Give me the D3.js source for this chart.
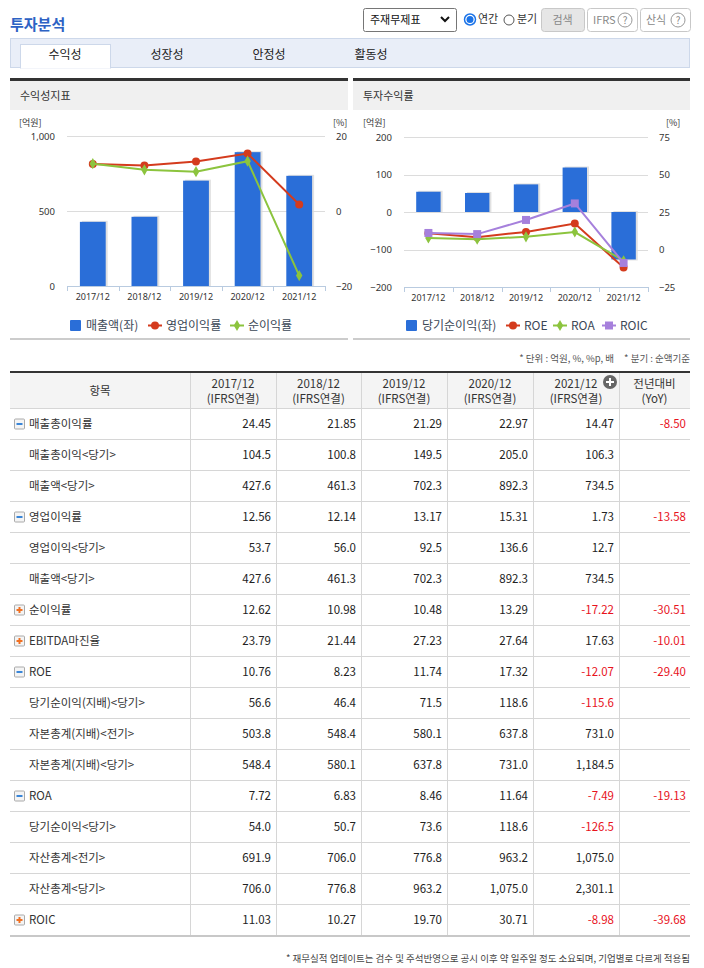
<!DOCTYPE html>
<html>
<head>
<meta charset="utf-8">
<script src="https://cdn.jsdelivr.net/npm/d3@7.9.0/dist/d3.min.js"></script>
<style>
  body { margin: 0; background: #fff; }
  svg { display: block; font-family: "Noto Sans CJK KR", "Noto Sans", sans-serif; }
</style>
</head>
<body>
<div id="page"></div>
<script>
// Chart data
const years = ['2017/12', '2018/12', '2019/12', '2020/12', '2021/12'];
const sales = [427.6, 461.3, 702.3, 892.3, 734.5];
const opMargin = [12.56, 12.14, 13.17, 15.31, 1.73];
const netMargin = [12.62, 10.98, 10.48, 13.29, -17.22];
const netIncome = [54.0, 50.7, 73.6, 118.6, -126.5];
const roe = [10.76, 8.23, 11.74, 17.32, -12.07];
const roa = [7.72, 6.83, 8.46, 11.64, -7.49];
const roic = [11.03, 10.27, 19.70, 30.71, -8.98];

const tabs = ['수익성', '성장성', '안정성', '활동성'];

// Table data
const rowLabels = ['매출총이익률', '매출총이익<당기>', '매출액<당기>', '영업이익률', '영업이익<당기>', '매출액<당기>',
  '순이익률', 'EBITDA마진율', 'ROE', '당기순이익(지배)<당기>', '자본총계(지배)<전기>', '자본총계(지배)<당기>',
  'ROA', '당기순이익<당기>', '자산총계<전기>', '자산총계<당기>', 'ROIC'];
const rowIcons = ['-', '', '', '-', '', '', '+', '+', '-', '', '', '', '-', '', '', '', '+'];
const rowValues = [
  ['24.45', '21.85', '21.29', '22.97', '14.47'],
  ['104.5', '100.8', '149.5', '205.0', '106.3'],
  ['427.6', '461.3', '702.3', '892.3', '734.5'],
  ['12.56', '12.14', '13.17', '15.31', '1.73'],
  ['53.7', '56.0', '92.5', '136.6', '12.7'],
  ['427.6', '461.3', '702.3', '892.3', '734.5'],
  ['12.62', '10.98', '10.48', '13.29', '-17.22'],
  ['23.79', '21.44', '27.23', '27.64', '17.63'],
  ['10.76', '8.23', '11.74', '17.32', '-12.07'],
  ['56.6', '46.4', '71.5', '118.6', '-115.6'],
  ['503.8', '548.4', '580.1', '637.8', '731.0'],
  ['548.4', '580.1', '637.8', '731.0', '1,184.5'],
  ['7.72', '6.83', '8.46', '11.64', '-7.49'],
  ['54.0', '50.7', '73.6', '118.6', '-126.5'],
  ['691.9', '706.0', '776.8', '963.2', '1,075.0'],
  ['706.0', '776.8', '963.2', '1,075.0', '2,301.1'],
  ['11.03', '10.27', '19.70', '30.71', '-8.98'],
];
const rowYoY = ['-8.50', '', '', '-13.58', '', '', '-30.51', '-10.01', '-29.40', '', '', '', '-19.13', '', '', '', '-39.68'];

const colors = { bar: '#2a6ed8', red: '#d43b1d', green: '#8cc43e', purple: '#a680dc' };

const W = 704, H = 968;
const svg = d3.select('#page').append('svg').attr('width', W).attr('height', H);

// ---------- Header ----------
svg.append('text').attr('x', 10).attr('y', 30)
  .attr('font-size', 15).attr('font-weight', 'bold').attr('fill', '#2d62c4').text('투자분석');

// select box
svg.append('rect').attr('x', 363.5).attr('y', 8.5).attr('width', 93).attr('height', 23).attr('rx', 2)
  .attr('fill', '#fff').attr('stroke', '#767676');
svg.append('text').attr('x', 370).attr('y', 24).attr('font-size', 11).attr('fill', '#111').text('주재무제표');
svg.append('path').attr('d', 'M441,17 l4,4 l4,-4').attr('fill', 'none').attr('stroke', '#111').attr('stroke-width', 2);

// radios
svg.append('circle').attr('cx', 470).attr('cy', 19.5).attr('r', 5.5).attr('fill', '#fff').attr('stroke', '#1a73e8').attr('stroke-width', 1.5);
svg.append('circle').attr('cx', 470).attr('cy', 19.5).attr('r', 3.5).attr('fill', '#1a73e8');
svg.append('text').attr('x', 478).attr('y', 23).attr('font-size', 11).attr('fill', '#333').text('연간');
svg.append('circle').attr('cx', 509).attr('cy', 20).attr('r', 5).attr('fill', '#fff').attr('stroke', '#555');
svg.append('text').attr('x', 517).attr('y', 23).attr('font-size', 11).attr('fill', '#333').text('분기');

// buttons
const buttons = [
  { x: 541, w: 43, label: '검색', bg: '#e6e6e6' },
  { x: 587, w: 50, label: 'IFRS', bg: '#fff', q: true },
  { x: 640, w: 50, label: '산식', bg: '#fff', q: true },
];
buttons.forEach(b => {
  svg.append('rect').attr('x', b.x + 0.5).attr('y', 8.5).attr('width', b.w).attr('height', 23).attr('rx', 3)
    .attr('fill', b.bg).attr('stroke', '#c8c8c8');
  svg.append('text').attr('x', b.q ? b.x + 6 : b.x + b.w / 2).attr('y', 24)
    .attr('text-anchor', b.q ? 'start' : 'middle').attr('font-size', 11).attr('fill', '#888').text(b.label);
  if (b.q) {
    svg.append('circle').attr('cx', b.x + b.w - 12).attr('cy', 20).attr('r', 7).attr('fill', 'none').attr('stroke', '#999');
    svg.append('text').attr('x', b.x + b.w - 12).attr('y', 24).attr('text-anchor', 'middle')
      .attr('font-size', 10).attr('fill', '#888').text('?');
  }
});

// tab bar
svg.append('rect').attr('x', 10.5).attr('y', 38.5).attr('width', 679).attr('height', 29)
  .attr('fill', '#e9eef8').attr('stroke', '#cdd8ea');
svg.append('rect').attr('x', 20.5).attr('y', 44.5).attr('width', 90).attr('height', 23.5)
  .attr('fill', '#fff').attr('stroke', '#cdd8ea');
svg.append('line').attr('x1', 21).attr('x2', 110).attr('y1', 67.5).attr('y2', 67.5).attr('stroke', '#fff').attr('stroke-width', 2);
svg.selectAll('.tab').data(tabs).join('text')
  .attr('x', (d, i) => 65 + i * 102).attr('y', 59).attr('text-anchor', 'middle')
  .attr('font-size', 12).attr('fill', '#222').text(d => d);

// ---------- Chart panels ----------
function panel(x, w, title) {
  svg.append('rect').attr('x', x).attr('y', 78).attr('width', w).attr('height', 3).attr('fill', '#333');
  svg.append('rect').attr('x', x).attr('y', 81).attr('width', w).attr('height', 29).attr('fill', '#f0f0f0');
  svg.append('text').attr('x', x + 10).attr('y', 100).attr('font-size', 11).attr('fill', '#333').text(title);
  svg.append('rect').attr('x', x).attr('y', 338).attr('width', w).attr('height', 2).attr('fill', '#cccccc');
}
panel(10, 338, '수익성지표');
panel(353, 337, '투자수익률');

function drawChart(cfg) {
  const g = svg.append('g');
  const x = d3.scaleBand().domain(years).range([cfg.x0, cfg.x1]).paddingInner(0.5).paddingOuter(0.25);
  const yL = d3.scaleLinear().domain(cfg.leftDomain).range([cfg.yBottom, cfg.yTop]);
  const yR = d3.scaleLinear().domain(cfg.rightDomain).range([cfg.yBottom, cfg.yTop]);

  // gridlines
  g.append('g').selectAll('line').data(cfg.leftTicks.slice(1)).join('line')
    .attr('x1', cfg.x0).attr('x2', cfg.x1)
    .attr('y1', d => Math.round(yL(d)) + 0.5).attr('y2', d => Math.round(yL(d)) + 0.5)
    .attr('stroke', '#dcdcdc');

  // left axis
  const la = g.append('g').attr('transform', `translate(${cfg.x0 - 9},0)`)
    .call(d3.axisLeft(yL).tickValues(cfg.leftTicks).tickSize(0).tickFormat(d3.format(',')));
  la.select('.domain').remove();
  la.selectAll('text').attr('font-size', 9.5).attr('fill', '#333').attr('font-family', '"Noto Sans", sans-serif');

  // right axis
  const ra = g.append('g').attr('transform', `translate(${cfg.x1 + 8},0)`)
    .call(d3.axisRight(yR).tickValues(cfg.rightTicks).tickSize(0));
  ra.select('.domain').remove();
  ra.selectAll('text').attr('font-size', 9.5).attr('fill', '#333').attr('font-family', '"Noto Sans", sans-serif');

  g.append('text').attr('x', cfg.unitLX).attr('y', 126).attr('font-size', 9).attr('fill', '#333').text('[억원]');
  g.append('text').attr('x', cfg.unitRX).attr('y', 126).attr('font-size', 9).attr('fill', '#333').text('[%]');

  // bars
  const base = yL(Math.max(cfg.leftDomain[0], 0));
  const bars = g.append('g');
  bars.selectAll('.shadow').data(cfg.bars).join('rect')
    .attr('x', (d, i) => x(years[i]) + 2)
    .attr('y', d => Math.min(yL(d), base) - 1)
    .attr('width', x.bandwidth())
    .attr('height', d => Math.abs(yL(d) - base) + 2)
    .attr('fill', '#d9d9d9').attr('opacity', 0.8);
  bars.selectAll('.bar').data(cfg.bars).join('rect')
    .attr('x', (d, i) => x(years[i]))
    .attr('y', d => Math.min(yL(d), base))
    .attr('width', x.bandwidth())
    .attr('height', d => Math.abs(yL(d) - base))
    .attr('fill', colors.bar);

  // x axis
  g.append('line').attr('x1', cfg.x0).attr('x2', cfg.x1).attr('y1', cfg.yBottom + 0.5).attr('y2', cfg.yBottom + 0.5)
    .attr('stroke', '#b9cbe0');
  g.append('g').selectAll('line').data(d3.range(6)).join('line')
    .attr('x1', i => Math.round(cfg.x0 + i * (cfg.x1 - cfg.x0) / 5) + 0.5)
    .attr('x2', i => Math.round(cfg.x0 + i * (cfg.x1 - cfg.x0) / 5) + 0.5)
    .attr('y1', cfg.yBottom).attr('y2', cfg.yBottom + 5).attr('stroke', '#b9cbe0');
  g.append('g').selectAll('text').data(years).join('text')
    .attr('x', d => x(d) + x.bandwidth() / 2).attr('y', cfg.yBottom + 14)
    .attr('text-anchor', 'middle').attr('font-size', 9).attr('fill', '#333')
    .attr('font-family', '"Noto Sans", sans-serif').text(d => d);

  // lines
  const cx = i => x(years[i]) + x.bandwidth() / 2;
  cfg.lines.forEach(s => {
    const line = d3.line().x((d, i) => cx(i)).y(d => yR(d));
    g.append('path').datum(s.values).attr('d', line).attr('fill', 'none')
      .attr('stroke', s.color).attr('stroke-width', 2);
    const sym = d3.symbol().type(s.symbol).size(s.size);
    g.append('g').selectAll('path').data(s.values).join('path')
      .attr('transform', (d, i) => `translate(${cx(i)},${yR(d)})`)
      .attr('d', sym).attr('fill', s.color);
  });

  // legend
  const lg = g.append('g');
  lg.append('rect').attr('x', cfg.legend[0]).attr('y', 320).attr('width', 11).attr('height', 11).attr('rx', 1).attr('fill', colors.bar);
  lg.append('text').attr('x', cfg.legend[0] + 16).attr('y', 330).attr('font-size', 12).attr('fill', '#3b4756').text(cfg.barName);
  cfg.lines.forEach((s, k) => {
    const lx = cfg.legend[k + 1];
    lg.append('line').attr('x1', lx).attr('x2', lx + 14).attr('y1', 325.5).attr('y2', 325.5)
      .attr('stroke', s.color).attr('stroke-width', 2);
    lg.append('path').attr('transform', `translate(${lx + 7},325.5)`)
      .attr('d', d3.symbol().type(s.symbol).size(s.size)()).attr('fill', s.color);
    lg.append('text').attr('x', lx + 18).attr('y', 330).attr('font-size', 12).attr('fill', '#3b4756').text(s.name);
  });
}

drawChart({
  x0: 67, x1: 325, yTop: 136, yBottom: 286,
  leftDomain: [0, 1000], leftTicks: [0, 500, 1000],
  rightDomain: [-20, 20], rightTicks: [-20, 0, 20],
  unitLX: 19, unitRX: 333,
  bars: sales, barName: '매출액(좌)',
  lines: [
    { name: '영업이익률', values: opMargin, color: colors.red, symbol: d3.symbolCircle, size: 50 },
    { name: '순이익률', values: netMargin, color: colors.green, symbol: d3.symbolDiamond, size: 36 },
  ],
  legend: [70, 148, 230],
});

drawChart({
  x0: 404, x1: 648, yTop: 137, yBottom: 287,
  leftDomain: [-200, 200], leftTicks: [-200, -100, 0, 100, 200],
  rightDomain: [-25, 75], rightTicks: [-25, 0, 25, 50, 75],
  unitLX: 363, unitRX: 666,
  bars: netIncome, barName: '당기순이익(좌)',
  lines: [
    { name: 'ROE', values: roe, color: colors.red, symbol: d3.symbolCircle, size: 50 },
    { name: 'ROA', values: roa, color: colors.green, symbol: d3.symbolDiamond, size: 36 },
    { name: 'ROIC', values: roic, color: colors.purple, symbol: d3.symbolSquare, size: 64 },
  ],
  legend: [406, 506, 553, 602],
});

// ---------- Table ----------
svg.append('text').attr('x', 614).attr('y', 362).attr('text-anchor', 'end')
  .attr('font-size', 9.5).attr('fill', '#555').text('* 단위 : 억원, %, %p, 배');
svg.append('text').attr('x', 690).attr('y', 362).attr('text-anchor', 'end')
  .attr('font-size', 9.5).attr('fill', '#555').text('* 분기 : 순액기준');

const colEdges = [10, 190, 276, 361, 447, 533, 619, 690];
const headTop = 373, headBottom = 408, rowH = 31;
const tableBottom = headBottom + rowH * rowLabels.length;

svg.append('rect').attr('x', 10).attr('y', headTop).attr('width', 680).attr('height', headBottom - headTop).attr('fill', '#f4f4f4');
svg.append('rect').attr('x', 10).attr('y', 371).attr('width', 680).attr('height', 2).attr('fill', '#333');

// vertical lines
svg.append('g').selectAll('line').data(colEdges.slice(1, -1)).join('line')
  .attr('x1', d => d + 0.5).attr('x2', d => d + 0.5).attr('y1', headTop).attr('y2', tableBottom)
  .attr('stroke', '#d6d6d6');
// horizontal lines
svg.append('g').selectAll('line').data(d3.range(rowLabels.length)).join('line')
  .attr('x1', 10).attr('x2', 690)
  .attr('y1', i => headBottom + i * rowH + 0.5).attr('y2', i => headBottom + i * rowH + 0.5)
  .attr('stroke', '#d6d6d6');
svg.append('rect').attr('x', 10).attr('y', tableBottom).attr('width', 680).attr('height', 2).attr('fill', '#c8c8c8');

// header texts
const headers = [['항목'], ...years.map(y => [y, '(IFRS연결)']), ['전년대비', '(YoY)']];
headers.forEach((h, i) => {
  const cxh = (colEdges[i] + colEdges[i + 1]) / 2;
  if (h.length === 1) {
    svg.append('text').attr('x', cxh).attr('y', 395).attr('text-anchor', 'middle').attr('font-size', 11.5).attr('fill', '#333').text(h[0]);
  } else {
    h.forEach((t, k) => svg.append('text').attr('x', cxh).attr('y', 388 + k * 15).attr('text-anchor', 'middle')
      .attr('font-size', 11.5).attr('fill', '#333').text(t));
  }
});
// plus circle in header
svg.append('circle').attr('cx', 610).attr('cy', 382).attr('r', 7).attr('fill', '#666');
svg.append('path').attr('d', 'M606,382 h8 M610,378 v8').attr('stroke', '#fff').attr('stroke-width', 2);

// rows
const fmtColor = v => (v.startsWith('-') ? '#e8131d' : '#222');
rowLabels.forEach((label, r) => {
  const yMid = headBottom + r * rowH + rowH / 2;
  const icon = rowIcons[r];
  if (icon) {
    svg.append('rect').attr('x', 14.5).attr('y', yMid - 4.5).attr('width', 10).attr('height', 10).attr('rx', 1)
      .attr('fill', '#f4f4f4').attr('stroke', '#aaa');
    if (icon === '-') {
      svg.append('path').attr('d', `M16.5,${yMid + 0.5} h6`).attr('stroke', '#3a86d8').attr('stroke-width', 2);
    } else {
      svg.append('path').attr('d', `M16.5,${yMid + 0.5} h6 M19.5,${yMid - 2.5} v6`).attr('stroke', '#f07022').attr('stroke-width', 2);
    }
  }
  svg.append('text').attr('x', 29).attr('y', yMid + 4).attr('font-size', 11.5).attr('fill', '#333').text(label);
  rowValues[r].forEach((v, c) => {
    svg.append('text').attr('x', colEdges[c + 2] - 5).attr('y', yMid + 4).attr('text-anchor', 'end')
      .attr('font-size', 11.5).attr('fill', fmtColor(v)).text(v);
  });
  if (rowYoY[r]) {
    svg.append('text').attr('x', 686).attr('y', yMid + 4).attr('text-anchor', 'end')
      .attr('font-size', 11.5).attr('fill', fmtColor(rowYoY[r])).text(rowYoY[r]);
  }
});

svg.append('text').attr('x', 690).attr('y', 962).attr('text-anchor', 'end').attr('font-size', 9.5).attr('fill', '#444')
  .text('* 재무실적 업데이트는 검수 및 주석반영으로 공시 이후 약 일주일 정도 소요되며, 기업별로 다르게 적용됨');
</script>
</body>
</html>
